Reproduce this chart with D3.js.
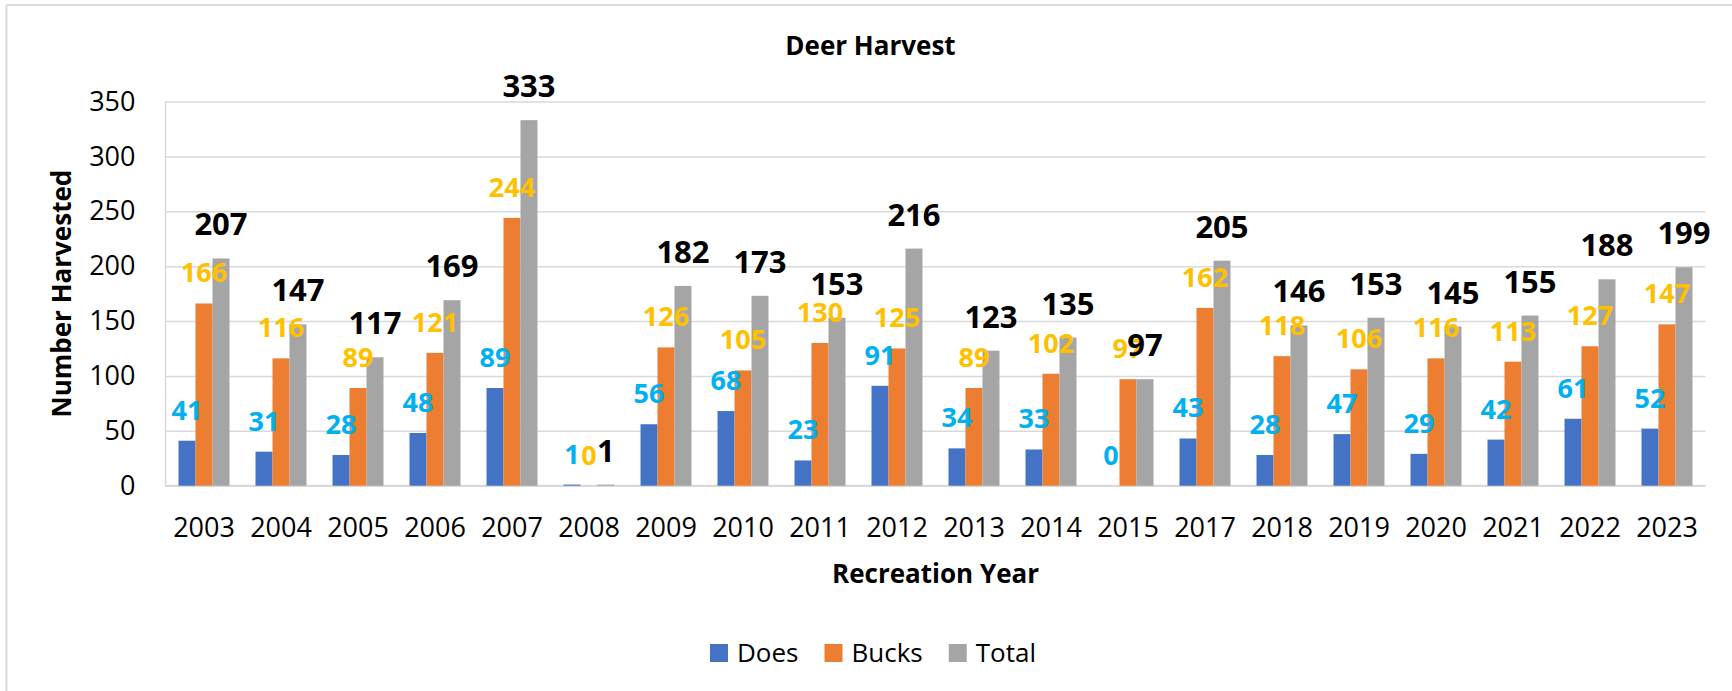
<!DOCTYPE html>
<html>
<meta charset="utf-8">
<title>Deer Harvest</title>
<style>
body {
  margin: 0;
  background: #fff;
  font-family: "Open Sans", "Noto Sans", sans-serif;
}

.grid line {
  stroke: #d9d9d9;
  stroke-width: 1.5px;
}

.grid text, .xaxis text {
  font-size: 27px;
  fill: #000;
}

.label {
  font-weight: bold;
  text-anchor: middle;
}

</style>
<body>
<div id="chart"></div>
<script src="https://d3js.org/d3.v7.min.js"></script>
<script>

var years = ["2003", "2004", "2005", "2006", "2007", "2008", "2009", "2010", "2011", "2012",
  "2013", "2014", "2015", "2017", "2018", "2019", "2020", "2021", "2022", "2023"];
var does = [41, 31, 28, 48, 89, 1, 56, 68, 23, 91, 34, 33, 0, 43, 28, 47, 29, 42, 61, 52];
var bucks = [166, 116, 89, 121, 244, 0, 126, 105, 130, 125, 89, 102, 97, 162, 118, 106, 116, 113, 127, 147];
var total = [207, 147, 117, 169, 333, 1, 182, 173, 153, 216, 123, 135, 97, 205, 146, 153, 145, 155, 188, 199];
var seriesNames = ["Does", "Bucks", "Total"];
var yTicks = [0, 50, 100, 150, 200, 250, 300, 350];

var W = 1732, H = 691;
var margin = {top: 101.5, left: 165.5},
  width = 1540,
  height = 384.2;

var barColor = d3.scaleOrdinal().domain(seriesNames).range(["#4472c4", "#ed7d31", "#a5a5a5"]);
var labelColor = d3.scaleOrdinal().domain(seriesNames).range(["#00b0f0", "#ffc000", "#000"]);
var labelSize = {Does: 27, Bucks: 27, Total: 31};
var labelGap = {Does: 21, Bucks: 21, Total: 23};

var svg = d3.select("#chart").append("svg")
  .attr("width", W)
  .attr("height", H);

// outer frame (only top and left edges show)
svg.append("line").attr("x1", 6.5).attr("x2", W).attr("y1", 5).attr("y2", 5)
  .attr("stroke", "#d9d9d9").attr("stroke-width", 2);
svg.append("line").attr("x1", 6.5).attr("x2", 6.5).attr("y1", 5).attr("y2", H)
  .attr("stroke", "#d9d9d9").attr("stroke-width", 2);

var g = svg.append("g")
  .attr("transform", "translate(" + margin.left + "," + margin.top + ")");

var x0 = d3.scaleBand()
  .domain(years)
  .range([0, width])
  .paddingInner(0.338)
  .paddingOuter(0.169);

var x1 = d3.scaleBand()
  .domain(seriesNames)
  .range([0, x0.bandwidth()]);

var y = d3.scaleLinear()
  .domain([0, 350])
  .range([height, 0]);

g.append("g")
  .attr("class", "grid")
  .call(d3.axisLeft(y).tickValues(yTicks).tickSize(-width).tickPadding(30))
  .call(function(a) { a.select(".domain").remove(); })
  .selectAll("text")
  .attr("font-family", "'Open Sans', sans-serif");

g.append("line")
  .attr("x1", 0).attr("x2", 0).attr("y1", 0).attr("y2", height)
  .attr("stroke", "#d9d9d9").attr("stroke-width", 1.5);

g.append("g")
  .attr("class", "xaxis")
  .attr("transform", "translate(0," + height + ")")
  .call(d3.axisBottom(x0).tickSize(0).tickPadding(32))
  .call(function(a) { a.select(".domain").remove(); })
  .selectAll("text")
  .attr("font-family", "'Open Sans', sans-serif");

g.append("line")
  .attr("x1", 0).attr("x2", width).attr("y1", height).attr("y2", height)
  .attr("stroke", "#d9d9d9").attr("stroke-width", 2);

var rows = years.map(function(yr, i) {
  return {year: yr, values: [
    {key: "Does", value: does[i]},
    {key: "Bucks", value: bucks[i]},
    {key: "Total", value: total[i]}
  ]};
});

var group = g.append("g").selectAll("g")
  .data(rows)
  .enter().append("g")
  .attr("transform", function(d) { return "translate(" + x0(d.year) + ",0)"; });

group.selectAll("rect")
  .data(function(d) { return d.values; })
  .enter().append("rect")
  .attr("x", function(d) { return x1(d.key); })
  .attr("y", function(d) { return y(d.value); })
  .attr("width", x1.bandwidth())
  .attr("height", function(d) { return height - y(d.value); })
  .attr("fill", function(d) { return barColor(d.key); });

// labels per series so totals sit on top
seriesNames.forEach(function(s) {
  g.append("g").selectAll("text")
    .data(rows)
    .enter().append("text")
    .attr("class", "label")
    .attr("x", function(d) { return x0(d.year) + x1(s) + x1.bandwidth() / 2; })
    .attr("y", function(d) {
      var v = d.values.find(function(e) { return e.key === s; }).value;
      return y(v) - labelGap[s];
    })
    .attr("fill", labelColor(s))
    .style("font-size", labelSize[s] + "px")
    .text(function(d) { return d.values.find(function(e) { return e.key === s; }).value; });
});

svg.append("text")
  .attr("x", 870.5)
  .attr("y", 55)
  .attr("text-anchor", "middle")
  .style("font-weight", "bold")
  .style("font-size", "26px")
  .text("Deer Harvest");

svg.append("text")
  .attr("x", margin.left + width / 2)
  .attr("y", 583)
  .attr("text-anchor", "middle")
  .style("font-weight", "bold")
  .style("font-size", "26px")
  .text("Recreation Year");

svg.append("text")
  .attr("transform", "translate(70.5," + (margin.top + height / 2) + ") rotate(-90)")
  .attr("text-anchor", "middle")
  .style("font-weight", "bold")
  .style("font-size", "26px")
  .text("Number Harvested");

var legend = svg.append("g").attr("transform", "translate(710,644)");
var lx = 0;
seriesNames.forEach(function(s) {
  var item = legend.append("g").attr("transform", "translate(" + lx + ",0)");
  item.append("rect").attr("width", 18).attr("height", 18).attr("fill", barColor(s));
  var t = item.append("text")
    .attr("x", 27)
    .attr("y", 17.5)
    .style("font-size", "26px")
    .text(s);
  lx += 27 + t.node().getComputedTextLength() + 26;
});

</script>
</body>
</html>
